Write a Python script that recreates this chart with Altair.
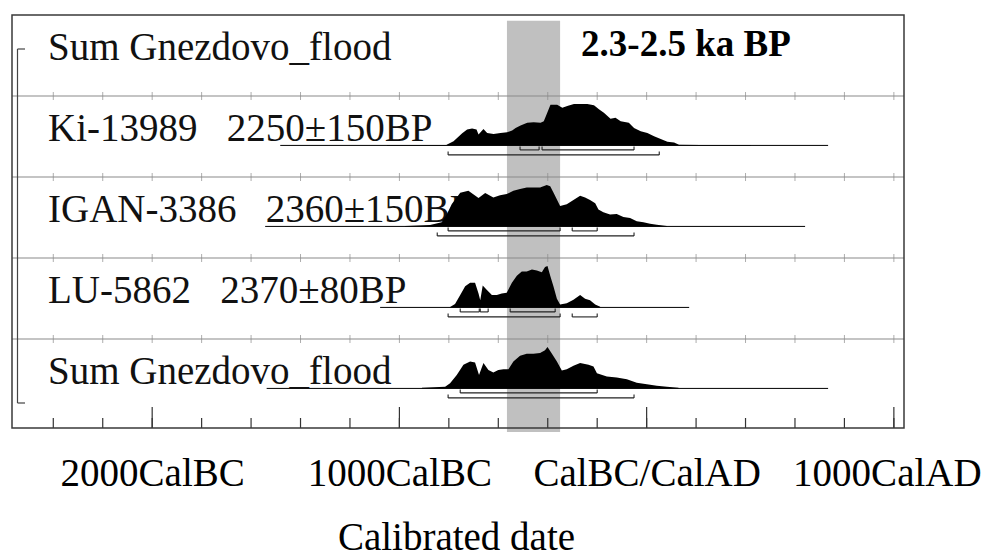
import altair as alt
import pandas as pd

# ---------------- data ----------------
NB = "\u00a0"
row_labels = ["Sum Gnezdovo_flood",
              "Ki-13989" + NB * 3 + "2250±150BP",
              "IGAN-3386" + NB * 3 + "2360±150BP",
              "LU-5862" + NB * 3 + "2370±80BP",
              "Sum Gnezdovo_flood"]
series = ["Ki-13989", "IGAN-3386", "LU-5862", "Sum Gnezdovo_flood"]  # rows 1..4

ki_years = [-1050, -810, -807, -781, -746, -726, -706, -688, -680, -660,
            -645, -619, -591, -564, -544, -530, -510, -483, -457, -429,
            -416, -402, -389, -362, -341, -321, -294, -240, -213, -193,
            -173, -146, -126, -105, -72, -51, -24, 3, 30, 57,
            84, 111, 131, 219, 421]
ki_prob = [0.5, 0.5, 0.8, 4, 12, 15.7, 16.7, 15.7, 10.7, 16.3,
           12.3, 11.3, 12.3, 13, 14.7, 17.3, 19.7, 22.3, 23, 22.3,
           24, 32.3, 40.3, 40.3, 37.3, 39, 41, 41, 39.7, 35.7,
           32.3, 26.3, 27.3, 24, 22.3, 17.3, 14, 12.3, 9, 6.3,
           3.7, 3, 0.7, 0.4, 0.4]

igan_years = [-977, -876, -829, -808, -788, -754, -721, -680, -653, -620,
              -593, -566, -539, -512, -485, -458, -431, -404, -390, -377,
              -350, -323, -296, -269, -249, -229, -208, -195, -175, -148,
              -121, -94, -67, -40, -13, 14, 41, 82]
igan_prob = [0.5, 1.5, 4, 12, 22, 33, 35, 28, 32.7, 28.3,
             30.7, 31.7, 35, 36.7, 38.3, 38.3, 38.3, 40.7, 39.3, 33.3,
             20, 21.7, 26, 30, 28.3, 26, 22.7, 16.7, 14, 11.7,
             12.3, 9.3, 8.3, 5, 4, 2.7, 1.7, 0.3]

lu_years = [-795, -775, -754, -734, -714, -694, -680, -673, -663, -647,
            -626, -606, -586, -566, -545, -525, -505, -485, -464, -444,
            -424, -411, -401, -390, -377, -363, -350, -323, -296, -269,
            -249, -229, -208, -188]
lu_prob = [0.5, 3.3, 11.7, 20, 23.3, 23.3, 13.3, 6.7, 20.7, 16.7,
           11.7, 11.7, 13.3, 14, 23.3, 30, 34, 34, 36, 35,
           33.3, 38.3, 39.3, 30, 20, 8.3, 2.7, 4, 7.3, 11.7,
           8.3, 6.7, 2.7, 0.7]

sum_years = [-909, -815, -795, -768, -741, -714, -694, -678, -660, -640,
             -620, -600, -579, -559, -539, -512, -485, -458, -431, -411,
             -401, -385, -363, -343, -323, -296, -269, -235, -215, -201,
             -161, -121, -80, -40, 1, 41, 82, 129]
sum_prob = [0.7, 1.7, 5, 13.3, 23.3, 26.7, 25.7, 13.3, 25, 18.3,
            15.7, 18.3, 19, 19, 26.7, 32.3, 34.3, 34.3, 35, 37.7,
            41, 35, 26.7, 17.7, 19, 22.3, 25, 23.3, 21.7, 15,
            11.7, 10.7, 9, 5.7, 4, 2.7, 1.7, 0.7]

span_start = [-1482, -1543, -1078, -1537]
span_end = [734, 641, 172, 734]

r_series = ["Ki-13989", "Ki-13989", "IGAN-3386", "IGAN-3386", "LU-5862", "LU-5862", "LU-5862",
            "Sum Gnezdovo_flood", "Ki-13989", "IGAN-3386", "LU-5862", "LU-5862", "Sum Gnezdovo_flood"]
r_level = [68, 68, 68, 68, 68, 68, 68, 68, 95, 95, 95, 95, 95]
r_from = [-512, -423, -803, -301, -754, -673, -552, -754, -803, -847, -803, -301, -803]
r_to = [-435, -51, -350, -200, -677, -641, -370, -200, 51, -51, -350, -200, -51]

tick_years = list(range(-2400, 1001, 200))
major_years = [-2000, -1000, 0, 1000]
major_labels = ["2000CalBC", "1000CalBC", "CalBC/CalAD", "1000CalAD"]
band_from, band_to = -565, -350
band_label = "2.3-2.5 ka BP"
x_title = "Calibrated date"

# ---------------- layout ----------------
W, H = 892, 413
UNIT = 81.0
YMAX = H / UNIT
BASE_OFF = 0.61
PEAK = 0.512
TEXT_OFF = 0.56
R_OFF = {68: 4.5 / UNIT, 95: 9.5 / UNIT}
CAP = 3.5 / UNIT
FONT = "Liberation Serif"

row_of = {s: i + 1 for i, s in enumerate(series)}

dens = []
for name, yrs, pr in [(series[0], ki_years, ki_prob), (series[1], igan_years, igan_prob),
                      (series[2], lu_years, lu_prob), (series[3], sum_years, sum_prob)]:
    m = max(pr)
    base = row_of[name] + BASE_OFF
    for yv, p in zip(yrs, pr):
        dens.append({"series": name, "year": yv, "base": base, "top": base - p / m * PEAK})
dens_df = pd.DataFrame(dens)

span_df = pd.DataFrame({"series": series, "start": span_start, "end": span_end})
span_df["base"] = span_df["series"].map(row_of) + BASE_OFF

rng_df = pd.DataFrame({"series": r_series, "level": r_level, "from": r_from, "to": r_to})
rng_df["ly"] = rng_df["series"].map(row_of) + BASE_OFF + rng_df["level"].map(R_OFF)
ends_df = pd.concat([rng_df.assign(pos=rng_df["from"]), rng_df.assign(pos=rng_df["to"])])
ends_df["ly2"] = ends_df["ly"] - CAP

label_df = pd.DataFrame({"label": row_labels, "r": range(len(row_labels))})
label_df["ty"] = label_df["r"] + TEXT_OFF

sep_df = pd.DataFrame({"r": [1, 2, 3, 4]})
septick_df = pd.DataFrame([{"r": r, "year": t} for r in [1, 2, 3, 4] for t in tick_years])
tick_df = pd.DataFrame({"year": tick_years})
tick_df["major"] = tick_df["year"].isin(major_years)
band_df = pd.DataFrame({"start": [band_from], "end": [band_to], "label": [band_label]})
one = pd.DataFrame({"k": [0]})

expr = "".join(f"datum.value == {v} ? '{l}' : " for v, l in zip(major_years, major_labels)) + "''"

xs = alt.Scale(domain=[-2567, 1041], nice=False, zero=False)
ys = alt.Scale(domain=[0, YMAX], nice=False, zero=False, reverse=True)
xax = alt.Axis(values=major_years, labelExpr=expr, ticks=False, tickSize=0, domain=False,
               grid=False, labelFont=FONT, labelFontSize=39, labelColor="black",
               labelPadding=57.7, labelBaseline="alphabetic", labelFlush=False,
               labelOverlap=False, labelAlign="center", labelLimit=0,
               labelOffset={"condition": {"test": f"datum.value == {major_years[-1]}", "value": -7},
                            "value": 0},
               title=x_title, titleFont=FONT, titleFontSize=39, titleFontWeight="normal",
               titleColor="black", titleX=444, titleY=121, titleBaseline="alphabetic",
               titleAlign="center", titleLimit=0)


def X(f):
    return alt.X(f, type="quantitative", scale=xs, axis=xax)


def Y(f):
    return alt.Y(f, type="quantitative", scale=ys, axis=None)


band = alt.Chart(band_df).mark_rect(color="#c0c0c0").encode(
    x=X("start"), x2="end", y=alt.value(5.7), y2=alt.value(417))

seps = alt.Chart(sep_df).mark_rule(color="#8a8a8a", strokeWidth=1.2).encode(
    y=Y("r"), x=alt.value(0), x2=alt.value(W))

septicks = alt.Chart(septick_df).mark_tick(orient="vertical", size=8, thickness=1,
                                           color="#8a8a8a").encode(x=X("year"), y=Y("r"))

minor = alt.Chart(tick_df).mark_rule(color="#333333", strokeWidth=1.2).encode(
    x=X("year"), y=alt.value(H), y2=alt.value(H - 10))
major = alt.Chart(tick_df).transform_filter("datum.major").mark_rule(
    color="#333333", strokeWidth=1.2).encode(x=X("year"), y=alt.value(H), y2=alt.value(H - 21))

spans = alt.Chart(span_df).mark_rule(color="black", strokeWidth=1).encode(
    x=X("start"), x2="end", y=Y("base"))

labels = alt.Chart(label_df).mark_text(align="left", baseline="alphabetic", font=FONT,
                                       fontSize=39, color="#111111").encode(
    x=alt.value(36), y=Y("ty"), text="label")

areas = alt.Chart(dens_df).mark_area(color="black", strokeWidth=0, interpolate="linear").encode(
    x=X("year"), y=Y("base"), y2="top", detail="series")

rng = alt.Chart(rng_df).mark_rule(color="#222222", strokeWidth=1.1).encode(
    x=X("from"), x2="to", y=Y("ly"))
rng_ends = alt.Chart(ends_df).mark_rule(color="#222222", strokeWidth=1.1).encode(
    x=X("pos"), y=Y("ly"), y2="ly2")

lb_v = alt.Chart(one).mark_rule(color="#444444", strokeWidth=1.2).encode(
    x=alt.value(5.5), y=alt.value(34), y2=alt.value(388))
lb_t = alt.Chart(one).mark_rule(color="#444444", strokeWidth=1.2).encode(
    x=alt.value(5.5), x2=alt.value(13), y=alt.value(34))
lb_b = alt.Chart(one).mark_rule(color="#444444", strokeWidth=1.2).encode(
    x=alt.value(5.5), x2=alt.value(13), y=alt.value(388))

band_text = alt.Chart(band_df).mark_text(align="left", baseline="alphabetic", font=FONT,
                                         fontSize=37, fontWeight="bold", color="black",
                                         dx=21).encode(
    x=X("end"), y=alt.value(41), text="label")

frame = alt.Chart(one).mark_rect(filled=False, color="#3a3a3a", strokeWidth=1.5).encode(
    x=alt.value(0), x2=alt.value(W), y=alt.value(0), y2=alt.value(H))

chart = alt.layer(band, seps, septicks, minor, major, spans, labels, areas, rng, rng_ends,
                  lb_v, lb_t, lb_b, band_text, frame).properties(
    width=W, height=H,
    autosize=alt.AutoSizeParams(type="none"),
    padding={"left": 4, "top": 7, "right": 77, "bottom": 126},
    background="white",
).configure_view(stroke=None)

chart.save("out.html", embed_options={"renderer": "svg", "actions": False})
